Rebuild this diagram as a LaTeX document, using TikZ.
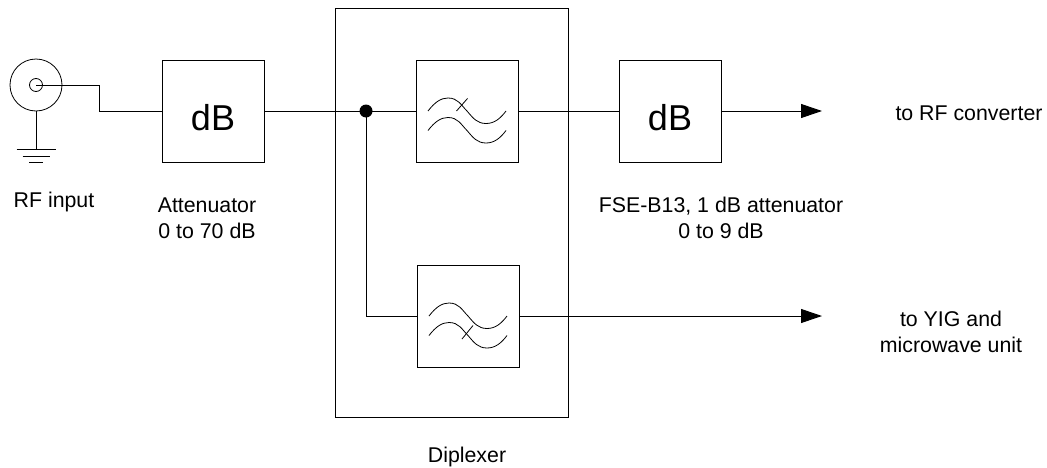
\documentclass[tikz,border=0pt]{standalone}
\usepackage{fontspec}
\setmainfont{Liberation Sans}
\usetikzlibrary{arrows.meta}
\begin{document}
\begin{tikzpicture}[x=0.75pt,y=-0.75pt,line width=0.75pt,
                    every node/.style={font=\fontsize{16}{19.5}\selectfont,align=center,inner sep=0pt},
                    blocco/.style={draw,minimum size=76.5pt},
                    testodb/.style={font=\fontsize{27}{30}\selectfont},
                    uscita/.style={-{Triangle[length=15.75pt,width=10.5pt]}},
                    onda/.style={line width=0.6pt}]
  \useasboundingbox (0,0) rectangle (1047,468);
  % diplexer frame and blocks
  \node[draw,minimum width=175pt,minimum height=307pt] (diplexer) at (452,213.3) {};
  \node[blocco] (att1) at (213,111) {};
  \node[blocco] (att2) at (670,111) {};
  \node[testodb] (db1) at (213,118) {dB};
  \node[testodb] (db2) at (670,118) {dB};
  \node[blocco] (filtro1) at (467,111) {};
  \node[blocco] (filtro2) at (468,316) {};
  \foreach \fl in {filtro1,filtro2} {
    \foreach \dy in {0,19.5} {
      \draw[onda,shift={(\fl.center)}] (-39,\dy) .. controls (-32,\dy-9) and (-26,\dy-13) .. (-19,\dy-13)
        .. controls (-9,\dy-13) and (-6,\dy-6) .. (0,\dy) .. controls (6,\dy+7) and (10,\dy+12.5) .. (19,\dy+12.5)
        .. controls (27,\dy+12.5) and (33,\dy+8) .. (39,\dy);
    }
  }
  \draw[onda,shift={(filtro1.center)}] (-10.5,0) -- (0.5,-12.5);
  \draw[onda,shift={(filtro2.center)}] (-6,23) -- (5,9.5);
  % RF input connector
  \node[draw,circle,minimum size=39pt,line width=0.6pt] (bnc) at (36,85) {};
  \node[draw,circle,minimum size=9.75pt,line width=0.6pt] (pin) at (36,85) {};
  \coordinate (piega) at (99,111);
  \coordinate (massa) at (36,149);
  \draw (pin.center) -| (piega) -- (att1.west);
  \draw (bnc.south) -- (massa);
  \foreach \yy/\ww in {0/19.5,7/13.5,13.5/7} {
    \draw ([shift={(-\ww,\yy)}]massa) -- ([shift={(\ww,\yy)}]massa);
  }
  % connections
  \node[circle,fill=black,minimum size=9.75pt] (giunto) at (366,111) {};
  \coordinate (fine1) at (822,111);
  \coordinate (fine2) at (822,316);
  \draw (att1.east) -- (filtro1.west);
  \draw (filtro1.east) -- (att2.west);
  \draw[uscita] (att2.east) -- (fine1);
  \draw (giunto.center) |- (filtro2.west);
  \draw[uscita] (filtro2.east) -- (fine2);
  % labels
  \node (lab1) at (54,202) {RF input};
  \node (lab2) at (207,218) {Attenuator\\0 to 70 dB};
  \node (lab3) at (721,218) {FSE-B13, 1 dB attenuator\\0 to 9 dB};
  \node (lab4) at (969,113) {to RF converter};
  \node (lab5) at (951,332) {to YIG and\\microwave unit};
  \node (lab6) at (467,457) {Diplexer};
\end{tikzpicture}
\end{document}
